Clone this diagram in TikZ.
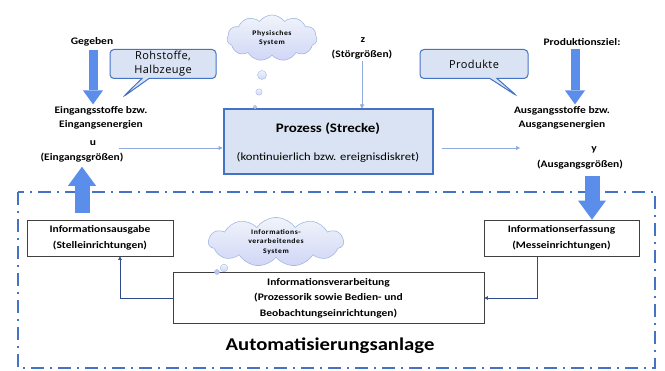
\documentclass[tikz,border=0pt]{standalone}
\usepackage{fontspec}
\setmainfont{Carlito}[FakeStretch=1.15]
\newfontfamily\callfont{Open Sans}[LetterSpace=4]
\newfontfamily\cloudfont{Carlito}[LetterSpace=8, FakeStretch=1.1]
\usepackage{tikz}
\usetikzlibrary{calc,arrows.meta,shapes.symbols,shapes.callouts,positioning}
\definecolor{boxblue}{HTML}{4472C4}
\definecolor{boxfill}{HTML}{DAE3F3}
\definecolor{arrblue}{HTML}{5B8DEB}
\definecolor{thinblue}{HTML}{8FAADC}
\definecolor{navy}{HTML}{2F4A8A}
\definecolor{cloudline}{HTML}{A3B9E2}
\tikzset{
  lbl/.style={font=\fontsize{10}{14}\selectfont\bfseries, align=center, inner sep=1pt},
  bigarrow/.style={line width=9pt, draw=arrblue, -{Triangle[width=20pt,length=14pt,line width=0pt]}},
  hugearrow/.style={line width=15pt, draw=arrblue, -{Triangle[width=28pt,length=19pt,line width=0pt]}},
  thinarr/.style={draw=thinblue, line width=0.7pt, -{Triangle[width=4pt,length=4pt]}},
  navyarr/.style={draw=navy, line width=0.6pt, -{Triangle[width=3.5pt,length=3.5pt]}},
  infobox/.style={draw=black!75, line width=0.8pt, fill=white, align=center, inner sep=0pt,
    font=\fontsize{10}{15.5}\selectfont\bfseries},
  bubble/.style={cloud, cloud puffs=11, cloud puff arc=110, aspect=2, draw=cloudline, line width=0.6pt,
    top color=boxfill!40, bottom color=boxfill!90!blue!80, align=center, inner sep=0pt,
    font=\fontsize{7}{9.5}\selectfont\cloudfont\bfseries},
  callbox/.style={rectangle callout, rounded corners=4pt, draw=boxblue, line width=1pt, fill=boxfill,
    align=center, inner sep=0pt, font=\fontsize{11}{14}\selectfont\callfont},
}
\begin{document}
\begin{tikzpicture}[x=1pt, y=-1pt]
			%%%%% START %%%%%
			\useasboundingbox (0,0) rectangle (665,371);
			
			% oben links
			\node[lbl] (geg) at (92,42) {Gegeben};
			\node[lbl] (ein) at (101,118) {Eingangsstoffe bzw.\\Eingangsenergien};
			\node[lbl] (u) at (93,143) {u};
			\node[lbl] (ueg) at (82,158) {(Eingangsgrößen)};
			\draw[bigarrow] (geg.south) ++(1,2) -- ($(ein.north)+(-8,-1)$);
			\node[callbox, minimum width=106, minimum height=29, callout absolute pointer={(123,97)}] (roh) at (163,64) {Rohstoffe,\\Halbzeuge};
			
			% Prozess
			\node[draw=boxblue, line width=2pt, fill=boxfill, minimum width=209, minimum height=65] (proc) at (328,142) {};
			\node[font=\fontsize{13}{15}\selectfont\bfseries] (ptitle) at (328,129) {Prozess (Strecke)};
			\node[font=\fontsize{11}{13}\selectfont] (psub) at (328,157) {(kontinuierlich bzw. ereignisdiskret)};
			\node[bubble, minimum width=90, minimum height=46] (phys) at (272,38) {Physisches\\System};
			\draw[draw=cloudline, top color=boxfill!40, bottom color=boxfill!90!blue!80] (262,75) circle (4.5);
			\draw[draw=cloudline, top color=boxfill!40, bottom color=boxfill!90!blue!80] (259,92) circle (3.2);
			\draw[draw=cloudline, fill=boxfill!80!blue!80] (255,107) circle (1.8);
			\node[lbl] (z) at (363,40) {z};
			\node[lbl] (zs) at (362,55) {(Störgrößen)};
			\draw[thinarr] (zs.south) -- (zs.south |- proc.north);
			\coordinate (inl) at (119,148);
			\draw[thinarr] (inl) -- (inl -| proc.west);
			\coordinate (outr) at (520,148);
			\draw[thinarr] ([xshift=8]proc.east |- outr) -- (outr);
			
			% oben rechts
			\node[lbl] (ziel) at (582,42) {Produktionsziel:};
			\node[lbl] (aus) at (562,118) {Ausgangsstoffe bzw.\\Ausgangsenergien};
			\node[lbl] (y) at (594,150) {y};
			\node[lbl] (yag) at (580,165) {(Ausgangsgrößen)};
			\draw[bigarrow] ($(ziel.south)+(-7,2)$) -- ($(aus.north)+(13,-1)$);
			\node[callbox, minimum width=108, minimum height=29, callout absolute pointer={(517,96)}] (prod) at (474,64) {Produkte};
			
			% Automatisierungsanlage
			\draw[draw=boxblue, line width=1.8pt, dash pattern=on 13pt off 6pt on 2pt off 6pt] (18,192) rectangle (655,368);
			\node[infobox, minimum width=146, minimum height=36] (ausg) at (100,238) {Informationsausgabe\\(Stelleinrichtungen)};
			\node[infobox, minimum width=311, minimum height=51] (verarb) at (328.5,298) {Informationsverarbeitung\\(Prozessorik sowie Bedien- und\\Beobachtungseinrichtungen)};
			\node[infobox, minimum width=155, minimum height=36] (erf) at (561.5,238) {Informationserfassung\\(Messeinrichtungen)};
			\node[bubble, minimum width=135, minimum height=48] (infsys) at (276,242) {Informations-\\verarbeitendes\\System};
			\draw[draw=cloudline, top color=boxfill!40, bottom color=boxfill!90!blue!80] (224,268) circle (3.8);
			\draw[draw=cloudline, fill=boxfill!80!blue!80] (217,272) circle (2.5);
			\coordinate (ufoot) at (82,213);
			\draw[hugearrow] (ufoot) -- ($(ueg.south)+(0,3)$);
			\coordinate (yfoot) at (592,176);
			\draw[hugearrow] (yfoot) -- (yfoot |- erf.north);
			\draw[navyarr] ([xshift=-24.5]erf.south) |- (verarb.east);
			\draw[navyarr] (verarb.west) -| ([xshift=20]ausg.south);
			\node[font=\fontsize{18}{20}\selectfont\bfseries] (anl) at (330,346) {Automatisierungsanlage};
			
			%%%%% END %%%%%
		\end{tikzpicture}
\end{document}
